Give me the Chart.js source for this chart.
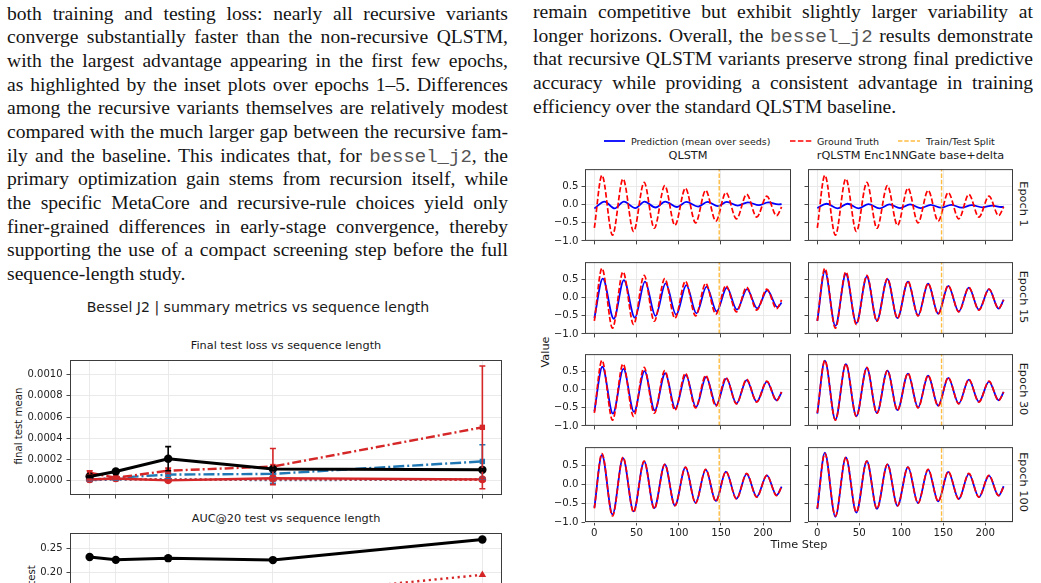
<!DOCTYPE html>
<html lang="en">
<head>
<meta charset="utf-8" />
<title>Bessel J2 results</title>
<script src="https://cdn.jsdelivr.net/npm/chart.js@4.4.1/dist/chart.umd.min.js"></script>
<style>
    html, body { margin: 0; padding: 0; background: #fff; }
    body { width: 1041px; height: 583px; overflow: hidden; position: relative; }
    .col { position: absolute; font-family: "Liberation Serif", serif; font-size: 19.6px; color: #141414; }
    .col div { height: 23.7px; line-height: 23.7px; text-align: justify; text-align-last: justify; white-space: nowrap; }
    .col div.last { text-align-last: left; }
    .tt { font-family: "Liberation Mono", monospace; color: #555; font-size: 19px; }
    .lbl { position: absolute; font-family: "DejaVu Sans", sans-serif; color: #1a1a1a; white-space: nowrap; transform: translate(-50%, -50%); }
    .lbl.rot { transform: translate(-50%, -50%) rotate(-90deg); }
    .lbl.rot90 { transform: translate(-50%, -50%) rotate(90deg); }
    .lg { position: absolute; font-family: "DejaVu Sans", sans-serif; font-size: 9.5px; color: #1a1a1a; white-space: nowrap; transform: translateY(-50%); }
    .lg svg { display: block; }
    canvas { position: absolute; }
</style>
</head>
<body>

<div class="col" style="left:7px; top:1.5px; width:501px;">
    <div>both training and testing loss: nearly all recursive variants</div>
    <div>converge substantially faster than the non-recursive QLSTM,</div>
    <div>with the largest advantage appearing in the first few epochs,</div>
    <div>as highlighted by the inset plots over epochs 1–5. Differences</div>
    <div>among the recursive variants themselves are relatively modest</div>
    <div>compared with the much larger gap between the recursive fam-</div>
    <div>ily and the baseline. This indicates that, for <span class="tt">bessel_j2</span>, the</div>
    <div>primary optimization gain stems from recursion itself, while</div>
    <div>the specific MetaCore and recursive-rule choices yield only</div>
    <div>finer-grained differences in early-stage convergence, thereby</div>
    <div>supporting the use of a compact screening step before the full</div>
    <div class="last">sequence-length study.</div>
</div>

<div class="col" style="left:533px; top:0px; width:500px;">
    <div>remain competitive but exhibit slightly larger variability at</div>
    <div>longer horizons. Overall, the <span class="tt">bessel_j2</span> results demonstrate</div>
    <div>that recursive QLSTM variants preserve strong final predictive</div>
    <div>accuracy while providing a consistent advantage in training</div>
    <div class="last">efficiency over the standard QLSTM baseline.</div>
</div>

<!-- left figure -->
<div class="lbl" style="left:258px; top:307px; font-size:14.1px;">Bessel J2 | summary metrics vs sequence length</div>
<div class="lbl" style="left:286px; top:345px; font-size:11.3px;">Final test loss vs sequence length</div>
<div class="lbl" style="left:286px; top:518px; font-size:11.3px;">AUC@20 test vs sequence length</div>
<div class="lbl rot" style="left:17.5px; top:426px; font-size:10.2px;">final test mean</div>
<div class="lbl rot" style="left:31px; top:599px; font-size:10.2px;">AUC@20 test</div>
<canvas id="loss"></canvas>
<canvas id="auc"></canvas>

<!-- right figure -->
<div class="lg" style="left:604px; top:141px;"><svg width="21" height="4"><line x1="0" y1="2" x2="21" y2="2" stroke="#0000ff" stroke-width="1.8"/></svg></div>
<div class="lg" style="left:631px; top:141px;">Prediction (mean over seeds)</div>
<div class="lg" style="left:790px; top:141px;"><svg width="22" height="4"><line x1="0" y1="2" x2="22" y2="2" stroke="#ff0000" stroke-width="1.6" stroke-dasharray="5.5,2.4"/></svg></div>
<div class="lg" style="left:817px; top:141px;">Ground Truth</div>
<div class="lg" style="left:898px; top:141px;"><svg width="22" height="4"><line x1="0" y1="2" x2="22" y2="2" stroke="rgba(255,165,0,0.75)" stroke-width="1.4" stroke-dasharray="4.4,1.9"/></svg></div>
<div class="lg" style="left:926px; top:141px;">Train/Test Split</div>
<div id="panels"></div>
<div class="lbl rot" style="left:545px; top:352px; font-size:11.3px;">Value</div>
<div class="lbl" style="left:799px; top:544px; font-size:11.3px;">Time Step</div>

<script>
    // ---- summary metrics vs sequence length ----
    const seqLens = [8, 16, 32, 64, 128];
    const lossQlstm = [0.000041, 0.000088, 0.000208, 0.000110, 0.000103];
    const lossQlstmErr = [0.000010, 0.000008, 0.000113, 0.000015, 0.000010];
    const lossRedDashDot = [0.000075, 0.000028, 0.000095, 0.000134, 0.000503];
    const lossRedDashDotErr = [0.000020, 0.000012, 0.000025, 0.000170, 0.000578];
    const lossBlueDashDot = [0.000008, 0.000028, 0.000058, 0.000065, 0.000182];
    const lossBlueDashDotErr = [0.000006, 0.000010, 0.000015, 0.000030, 0.000157];
    const lossRedSolid = [0.000012, 0.000022, 0.000004, 0.000024, 0.000013];
    const lossRedSolidErr = [0.000005, 0.000006, 0.000004, 0.000015, 0.000010];
    const lossBlueDotted = [0.000006, 0.000012, 0.000014, 0.000006, 0.000012];
    const lossBlueDottedErr = [0.000004, 0.000005, 0.000005, 0.000030, 0.000006];
    const lossRedDotted = [0.000015, 0.000016, 0.000010, 0.000012, 0.000010];

    const aucQlstm = [0.232, 0.226, 0.2295, 0.2255, 0.268];
    const aucRedDotted = [null, null, null, 0.152, 0.195];

    // ---- prediction panels (turning points of each curve) ----
    const gtTime = [0, 9, 21.5, 34, 46.5, 59, 71, 83.5, 95.5, 108, 120, 132, 144, 156, 168.5, 180.5, 192.5, 204.5, 216, 222];
    const gtValue = [-0.64, 0.82, -0.84, 0.72, -0.74, 0.62, -0.65, 0.53, -0.57, 0.46, -0.50, 0.40, -0.45, 0.34, -0.39, 0.29, -0.34, 0.24, -0.30, -0.06];

    const qlstmE1Time = [0, 12, 24, 35, 48.5, 59.5, 72.5, 84, 98, 109, 123, 134, 146.5, 157, 170, 182, 195, 206, 218, 222];
    const qlstmE1Value = [-0.10, 0.09, -0.10, 0.09, -0.09, 0.09, -0.075, 0.09, -0.06, 0.08, -0.05, 0.08, -0.035, 0.08, -0.02, 0.07, -0.01, 0.07, 0.01, 0.02];
    const rqE1Time = [0, 11, 24, 36, 49, 61, 74, 86, 98.5, 110.5, 123, 135, 147.5, 159.5, 172, 184, 196.5, 208.5, 219, 222];
    const rqE1Value = [-0.09, 0.03, -0.10, 0.03, -0.10, 0.02, -0.10, 0.01, -0.09, 0.01, -0.09, 0.0, -0.08, 0.0, -0.08, -0.01, -0.07, -0.02, -0.06, -0.05];

    const qlstmE15Time = [0, 10, 23, 35, 48, 60, 72.5, 84.5, 97, 109, 121, 133, 145, 157, 169, 181, 193, 205, 217, 222];
    const qlstmE15Value = [-0.56, 0.53, -0.58, 0.49, -0.55, 0.45, -0.50, 0.40, -0.47, 0.35, -0.43, 0.31, -0.38, 0.28, -0.33, 0.24, -0.29, 0.21, -0.26, -0.13];
    const rqE15Value = [-0.64, 0.74, -0.78, 0.66, -0.70, 0.59, -0.63, 0.52, -0.56, 0.45, -0.49, 0.39, -0.44, 0.33, -0.38, 0.28, -0.33, 0.24, -0.30, -0.05];

    const qlstmE30Time = [0, 9.5, 22, 34.5, 47, 59.5, 71.5, 84, 96, 108.5, 120.5, 132.5, 144.5, 156.5, 168.5, 180.5, 192.5, 204.5, 216, 222];
    const qlstmE30Value = [-0.60, 0.64, -0.66, 0.58, -0.61, 0.52, -0.57, 0.46, -0.52, 0.41, -0.48, 0.36, -0.43, 0.32, -0.38, 0.27, -0.33, 0.23, -0.29, -0.07];
    const rqE30Value = [-0.66, 0.81, -0.83, 0.71, -0.73, 0.61, -0.64, 0.53, -0.56, 0.45, -0.49, 0.39, -0.44, 0.33, -0.38, 0.28, -0.33, 0.23, -0.29, -0.06];

    const qlstmE100Value = [-0.62, 0.78, -0.80, 0.70, -0.72, 0.61, -0.63, 0.53, -0.56, 0.45, -0.49, 0.39, -0.44, 0.34, -0.38, 0.28, -0.33, 0.24, -0.29, -0.06];
    const rqE100Value = [-0.66, 0.84, -0.86, 0.72, -0.75, 0.62, -0.65, 0.53, -0.57, 0.46, -0.50, 0.39, -0.45, 0.33, -0.39, 0.28, -0.34, 0.23, -0.30, -0.05];

    const models = ['QLSTM', 'rQLSTM Enc1NNGate base+delta'];
    const epochs = ['Epoch 1', 'Epoch 15', 'Epoch 30', 'Epoch 100'];
    const splitStep = 148;

    // ---- helpers ----
    const font = 'DejaVu Sans';
    const pts = (xs, ys) => xs.map((x, i) => ({ x: x, y: ys[i] }));

    const framePlugin = {
        id: 'frame',
        afterDraw(chart) {
            const a = chart.chartArea, ctx = chart.ctx;
            ctx.save();
            ctx.strokeStyle = '#3c3c3c';
            ctx.lineWidth = 1;
            ctx.strokeRect(a.left + 0.5, a.top + 0.5, a.right - a.left - 1, a.bottom - a.top - 1);
            ctx.restore();
        }
    };

    const errorBarPlugin = {
        id: 'errorBars',
        afterDatasetsDraw(chart) {
            const ctx = chart.ctx, xs = chart.scales.x, ys = chart.scales.y;
            chart.data.datasets.slice().reverse().forEach(ds => {
                if (!ds.errors) return;
                ctx.save();
                ctx.strokeStyle = ds.borderColor;
                ctx.lineWidth = ds.errWidth || 1.6;
                ds.data.forEach((p, i) => {
                    const e = ds.errors[i];
                    if (!e || p.y == null) return;
                    const x = xs.getPixelForValue(p.x);
                    const y1 = ys.getPixelForValue(p.y - e), y2 = ys.getPixelForValue(p.y + e);
                    ctx.beginPath();
                    ctx.moveTo(x, y1); ctx.lineTo(x, y2);
                    ctx.moveTo(x - 3, y1); ctx.lineTo(x + 3, y1);
                    ctx.moveTo(x - 3, y2); ctx.lineTo(x + 3, y2);
                    ctx.stroke();
                });
                ctx.restore();
            });
        }
    };

    const makeChart = (canvas, area, m, datasets, xOpts, yOpts, plugins) => {
        const w = area.r - area.l + m.l + m.r, h = area.b - area.t + m.t + m.b;
        canvas.width = w; canvas.height = h;
        canvas.style.width = w + 'px'; canvas.style.height = h + 'px';
        canvas.style.left = (area.l - m.l) + 'px';
        canvas.style.top = (area.t - m.t) + 'px';
        xOpts.afterFit = s => { s.height = m.b; };
        yOpts.afterFit = s => { s.width = m.l; };
        return new Chart(canvas, {
            type: 'line',
            data: { datasets: datasets },
            options: {
                responsive: false,
                animation: false,
                devicePixelRatio: 1,
                layout: { padding: { left: 0, top: m.t, right: m.r, bottom: 0 } },
                plugins: { legend: { display: false }, tooltip: { enabled: false }, title: { display: false } },
                scales: { x: xOpts, y: yOpts }
            },
            plugins: [framePlugin].concat(plugins || [])
        });
    };

    const gridOpts = { color: '#e8e8e8', lineWidth: 0.9, tickColor: '#333', tickLength: 3.5, drawTicks: true };
    const tickFont = size => ({ family: font, size: size });

    // ---- left figure ----
    const red = '#d62728', blue = '#1f77b4';
    const seriesLine = (vals, errs, color, dash, width, shape, radius) => ({
        data: pts(seqLens, vals),
        errors: errs,
        borderColor: color,
        backgroundColor: color,
        borderWidth: width,
        borderDash: dash,
        pointStyle: shape,
        pointRadius: radius,
        pointBorderWidth: 0,
        spanGaps: false
    });

    const seqX = () => ({
        type: 'linear', min: 2, max: 134,
        afterBuildTicks: s => { s.ticks = seqLens.map(v => ({ value: v })); },
        ticks: { callback: () => '', autoSkip: false, font: tickFont(10) },
        grid: gridOpts, border: { display: false }
    });

    makeChart(document.getElementById('loss'),
        { l: 70, t: 355, r: 502, b: 497 }, { l: 70, t: 5, r: 5, b: 8 },
        [
            seriesLine(lossQlstm, lossQlstmErr, '#000', [], 3, 'circle', 4.2),
            seriesLine(lossRedSolid, lossRedSolidErr, red, [], 2.4, 'circle', 3.8),
            seriesLine(lossRedDashDot, lossRedDashDotErr, red, [9, 3, 2, 3], 2.4, 'rect', 3.8),
            seriesLine(lossRedDotted, null, red, [2, 3], 2.4, 'triangle', 3.8),
            seriesLine(lossBlueDashDot, lossBlueDashDotErr, blue, [11, 3, 2, 3], 2.4, 'rect', 3.8),
            seriesLine(lossBlueDotted, lossBlueDottedErr, blue, [2, 3], 2.4, 'triangle', 3.4)
        ],
        seqX(),
        {
            min: -0.000134, max: 0.001137,
            ticks: { stepSize: 0.0002, includeBounds: false, callback: v => v.toFixed(4), color: '#222', font: tickFont(10), padding: 4 },
            grid: gridOpts, border: { display: false }
        },
        [errorBarPlugin]);

    makeChart(document.getElementById('auc'),
        { l: 70, t: 528, r: 502, b: 671 }, { l: 70, t: 5, r: 5, b: 8 },
        [
            seriesLine(aucQlstm, null, '#000', [], 3, 'circle', 4.2),
            seriesLine(aucRedDotted, null, red, [2.2, 3.6], 2.4, 'triangle', 4.4)
        ],
        seqX(),
        {
            min: 0, max: 0.2816,
            ticks: { stepSize: 0.05, includeBounds: false, callback: v => v.toFixed(2), color: '#222', font: tickFont(10), padding: 4 },
            grid: gridOpts, border: { display: false }
        },
        []);

    // ---- right figure: 4 x 2 panels ----
    const predictions = [
        [pts(qlstmE1Time, qlstmE1Value), pts(rqE1Time, rqE1Value)],
        [pts(qlstmE15Time, qlstmE15Value), pts(gtTime, rqE15Value)],
        [pts(qlstmE30Time, qlstmE30Value), pts(gtTime, rqE30Value)],
        [pts(gtTime, qlstmE100Value), pts(gtTime, rqE100Value)]
    ];
    const colLeft = [585, 808], colRight = [791, 1013];
    const rowTop = [163, 256, 348, 441], rowHeight = 81;
    const yMin = -1.0, yMax = 0.99;
    const holder = document.getElementById('panels');

    const addLabel = (text, x, y, size, cls) => {
        const d = document.createElement('div');
        d.className = 'lbl' + (cls ? ' ' + cls : '');
        d.style.left = x + 'px'; d.style.top = y + 'px'; d.style.fontSize = size + 'px';
        d.textContent = text;
        holder.appendChild(d);
    };

    models.forEach((name, c) => addLabel(name, (colLeft[c] + colRight[c]) / 2, 155, 11.3));
    epochs.forEach((name, r) => addLabel(name, 1023, rowTop[r] + rowHeight / 2, 11.3, 'rot90'));

    epochs.forEach((ep, r) => {
        models.forEach((name, c) => {
            const cv = document.createElement('canvas');
            holder.appendChild(cv);
            const last = r === epochs.length - 1;
            makeChart(cv,
                { l: colLeft[c], t: rowTop[r], r: colRight[c], b: rowTop[r] + rowHeight },
                { l: 30, t: 3, r: 3, b: last ? 20 : 6 },
                [
                    {
                        data: [{ x: splitStep, y: yMin }, { x: splitStep, y: yMax }],
                        borderColor: 'rgba(255,165,0,0.75)', borderWidth: 1.4, borderDash: [4.4, 1.9], pointRadius: 0
                    },
                    {
                        data: pts(gtTime, gtValue),
                        borderColor: '#ff0000', borderWidth: 1.7, borderDash: [5.5, 2.4], pointRadius: 0,
                        cubicInterpolationMode: 'monotone'
                    },
                    {
                        data: predictions[r][c],
                        borderColor: '#0000ff', borderWidth: 1.8, pointRadius: 0,
                        cubicInterpolationMode: 'monotone'
                    }
                ],
                {
                    type: 'linear', min: -11.1, max: 233.1,
                    ticks: {
                        stepSize: 50, includeBounds: false, autoSkip: false, padding: 2,
                        callback: v => last ? String(v) : '', color: '#222', font: tickFont(10.2)
                    },
                    grid: gridOpts, border: { display: false }
                },
                {
                    min: yMin, max: yMax,
                    ticks: {
                        stepSize: 0.5, includeBounds: false, padding: 3, color: '#222', font: tickFont(10.2),
                        callback: v => c === 0 ? (v < 0 ? '\u2212' + Math.abs(v).toFixed(1) : v.toFixed(1)) : ''
                    },
                    grid: gridOpts, border: { display: false }
                });
        });
    });
</script>
</body>
</html>
